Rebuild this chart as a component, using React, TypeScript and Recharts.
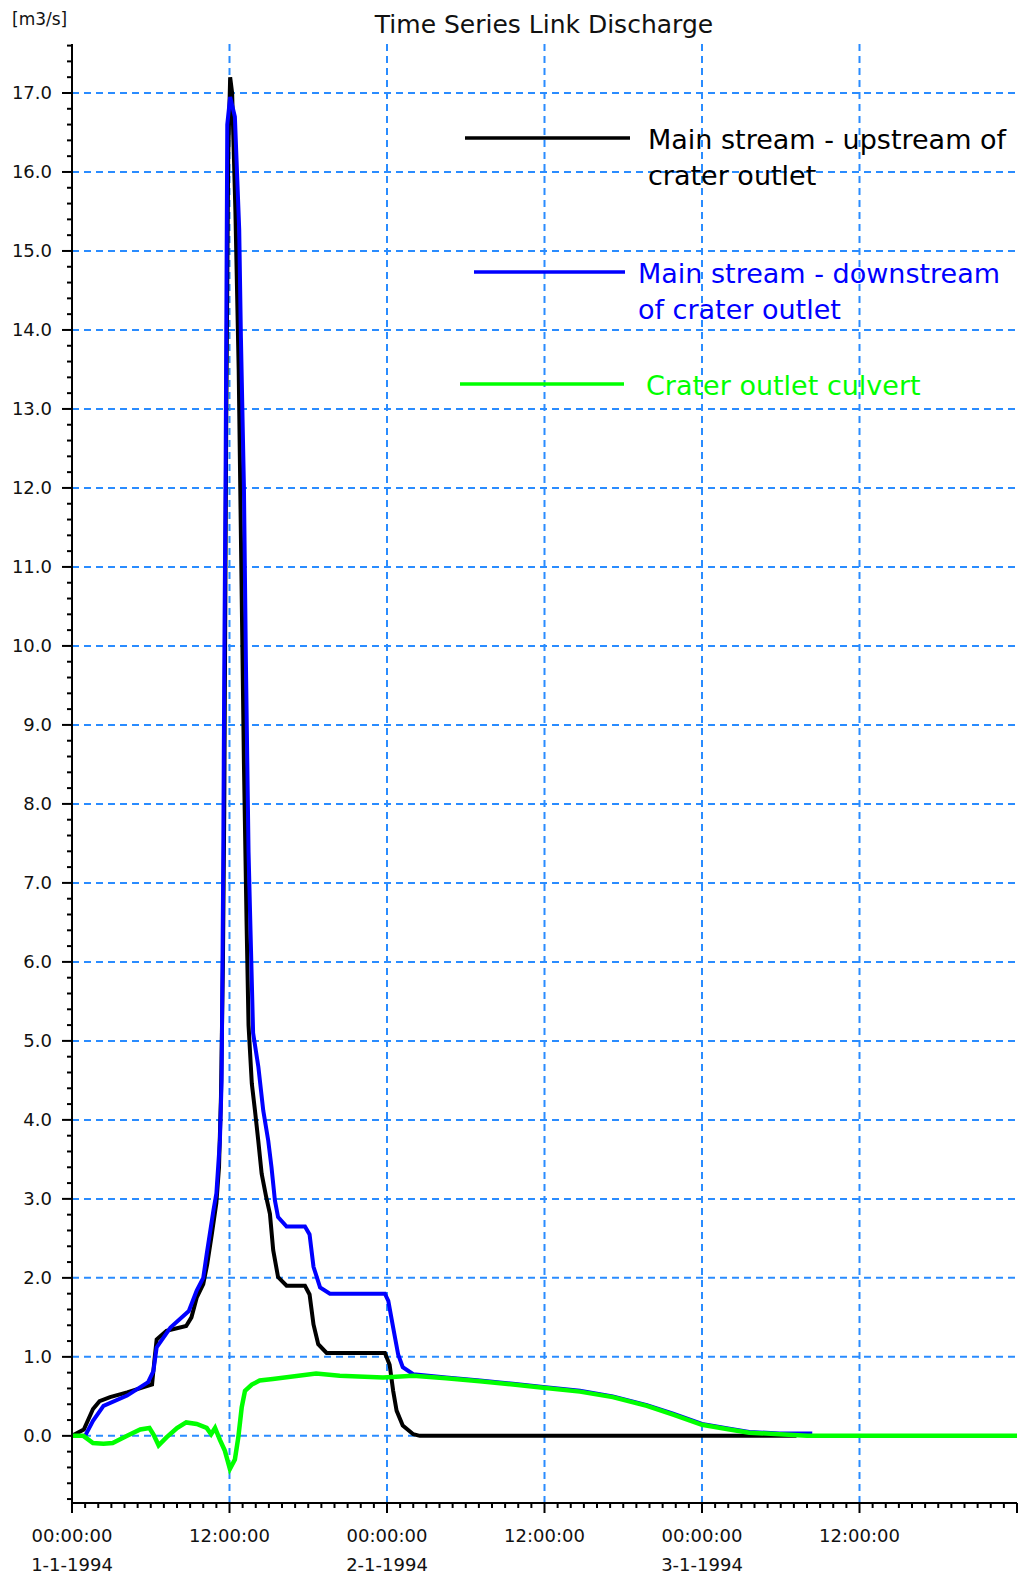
import { LineChart, Line, XAxis, YAxis, CartesianGrid } from "recharts";

// hours since 1-1-1994 00:00 and discharge [m3/s]
const upstreamHours = [0, 0.9, 1.6, 2.1, 2.9, 4.2, 5.7, 6.1, 6.3, 6.45, 7.2, 8.7, 9.1, 9.5, 10.0, 10.3, 10.65, 11.0, 11.2, 11.35, 11.5, 11.6, 11.75, 11.9, 12.05, 12.2, 12.45, 12.7, 12.9, 13.1, 13.3, 13.45, 13.7, 13.94, 14.19, 14.45, 14.8, 15.08, 15.33, 15.7, 16.35, 17.75, 18.1, 18.4, 18.76, 19.4, 23.84, 24.2, 24.47, 24.73, 25.2, 26.0, 26.5, 55.2];
const upstreamFlow = [0, 0.08, 0.34, 0.44, 0.49, 0.55, 0.63, 0.65, 0.99, 1.22, 1.33, 1.39, 1.5, 1.75, 1.92, 2.17, 2.55, 2.95, 3.4, 4.3, 6.0, 7.9, 12.8, 16.2, 17.2, 17.0, 15.5, 13.5, 11.0, 8.5, 6.5, 5.2, 4.46, 4.12, 3.74, 3.32, 3.02, 2.81, 2.35, 2.01, 1.9, 1.9, 1.79, 1.41, 1.16, 1.05, 1.05, 0.9, 0.57, 0.32, 0.13, 0.02, 0, 0];

const downstreamHours = [1.0, 1.6, 2.4, 4.2, 5.8, 6.2, 6.45, 7.5, 8.9, 9.5, 10.0, 10.26, 10.77, 11.0, 11.27, 11.4, 11.52, 11.6, 11.7, 11.83, 12.05, 12.41, 12.74, 12.87, 13.1, 13.25, 13.45, 13.6, 13.8, 14.2, 14.57, 14.95, 15.2, 15.46, 15.7, 16.35, 17.75, 18.1, 18.4, 18.9, 19.65, 23.84, 24.1, 24.47, 24.85, 25.2, 26.0, 28.5, 31.07, 33.6, 35.9, 38.7, 41.2, 43.8, 45.8, 48.0, 50.1, 51.6, 53.9, 56.4];
const downstreamFlow = [0, 0.19, 0.38, 0.51, 0.68, 0.82, 1.12, 1.37, 1.58, 1.84, 2.0, 2.3, 2.85, 3.07, 3.74, 4.5, 7.2, 9.7, 12.07, 16.6, 16.95, 16.7, 15.27, 13.9, 12.0, 9.8, 7.4, 6.4, 5.1, 4.67, 4.12, 3.74, 3.4, 2.98, 2.77, 2.65, 2.65, 2.55, 2.14, 1.88, 1.8, 1.8, 1.71, 1.37, 1.03, 0.87, 0.78, 0.74, 0.7, 0.66, 0.62, 0.57, 0.5, 0.39, 0.28, 0.15, 0.09, 0.05, 0.03, 0.03];

const culvertHours = [0, 0.86, 1.6, 2.4, 3.1, 4.2, 5.2, 5.9, 6.2, 6.6, 7.2, 8.0, 8.7, 9.5, 10.26, 10.6, 10.9, 11.27, 11.65, 12.03, 12.41, 12.67, 12.93, 13.18, 13.7, 14.3, 15.3, 18.6, 20.4, 23.7, 26.0, 28.5, 31.07, 33.6, 35.9, 38.7, 41.2, 43.8, 45.8, 48.0, 50.1, 51.6, 53.9, 56.0, 72];
const culvertFlow = [0, 0, -0.09, -0.1, -0.09, 0, 0.08, 0.1, 0.02, -0.12, -0.02, 0.1, 0.17, 0.15, 0.1, 0.02, 0.1, -0.05, -0.19, -0.42, -0.3, -0.02, 0.36, 0.57, 0.65, 0.7, 0.72, 0.79, 0.76, 0.74, 0.76, 0.73, 0.69, 0.65, 0.61, 0.56, 0.49, 0.38, 0.27, 0.14, 0.08, 0.04, 0.02, 0, 0];

const seriesNames = [
  ["Main stream - upstream of", "crater outlet"],
  ["Main stream - downstream", "of crater outlet"],
  ["Crater outlet culvert"],
];
const seriesColors = ["#000000", "#0000ff", "#00ff00"];

const timeLabels = ["00:00:00", "12:00:00", "00:00:00", "12:00:00", "00:00:00", "12:00:00", ""];
const dateLabels = ["1-1-1994", "", "2-1-1994", "", "3-1-1994", "", ""];
const gridHours = [12, 24, 36, 48, 60];
const yMajor = [0, 1, 2, 3, 4, 5, 6, 7, 8, 9, 10, 11, 12, 13, 14, 15, 16, 17];

const zip = (hours: number[], flow: number[]) => hours.map((t, i) => ({ t, q: flow[i] }));
const upstream = zip(upstreamHours, upstreamFlow);
const downstream = zip(downstreamHours, downstreamFlow);
const culvert = zip(culvertHours, culvertFlow);

const hourTicks = Array.from({ length: 73 }, (_, i) => i);
const flowTicks = Array.from({ length: 93 }, (_, i) => Math.round(-8 + i * 2) / 10);

const FONT = "DejaVu Sans, Verdana, sans-serif";

function HourTick({ x, y, payload }: any) {
  const h = payload.value;
  const major = h % 12 === 0;
  const idx = h / 12;
  return (
    <g>
      <line x1={x} x2={x} y1={y} y2={y + (major ? 10 : 5)} stroke="#000" strokeWidth={2} />
      {major && timeLabels[idx] ? (
        <text x={x} y={y + 39} textAnchor="middle" fontFamily={FONT} fontSize={18} fill="#111">
          {timeLabels[idx]}
        </text>
      ) : null}
      {major && dateLabels[idx] ? (
        <text x={x} y={y + 68} textAnchor="middle" fontFamily={FONT} fontSize={18} fill="#111">
          {dateLabels[idx]}
        </text>
      ) : null}
    </g>
  );
}

function FlowTick({ x, y, payload }: any) {
  const v = payload.value;
  const major = yMajor.some((m) => Math.abs(m - v) < 1e-6);
  return (
    <g>
      <line x1={x - (major ? 10 : 5)} x2={x} y1={y} y2={y} stroke="#000" strokeWidth={2} />
      {major ? (
        <text x={x - 20} y={y} textAnchor="end" dominantBaseline="central" fontFamily={FONT} fontSize={18} fill="#111">
          {v.toFixed(1)}
        </text>
      ) : null}
    </g>
  );
}

export default function App() {
  const legendRows = [
    { line: [465, 630], y: 138, textX: 648 },
    { line: [474, 625], y: 272, textX: 638 },
    { line: [460, 624], y: 384, textX: 646 },
  ];

  return (
    <div style={{ position: "absolute", left: 0, top: 0, width: 1018, height: 1576, background: "#fff" }}>
      <LineChart width={1018} height={1576} margin={{ top: 44, right: 1, bottom: 0, left: 0 }}>
        <CartesianGrid
          horizontalValues={yMajor}
          verticalValues={gridHours}
          stroke="#2a8cff"
          strokeWidth={2}
          strokeDasharray="7 5"
        />
        <XAxis
          dataKey="t"
          type="number"
          domain={[0, 72]}
          ticks={hourTicks}
          interval={0}
          height={73}
          tickSize={0}
          tickMargin={0}
          tickLine={false}
          tick={<HourTick />}
          axisLine={{ stroke: "#000", strokeWidth: 2 }}
          allowDataOverflow
        />
        <XAxis xAxisId="top" orientation="top" type="number" domain={[0, 72]} height={0} tick={false} tickLine={false} axisLine={{ stroke: "#333", strokeWidth: 2 }} />
        <YAxis
          type="number"
          domain={[-0.85, 17.62]}
          ticks={flowTicks}
          interval={0}
          width={72}
          tickSize={0}
          tickMargin={0}
          tickLine={false}
          tick={<FlowTick />}
          axisLine={{ stroke: "#000", strokeWidth: 2 }}
          allowDataOverflow
        />
        <YAxis yAxisId="right" orientation="right" type="number" domain={[-0.85, 17.62]} width={0} tick={false} tickLine={false} axisLine={{ stroke: "#333", strokeWidth: 2 }} />
        <Line data={upstream} dataKey="q" type="linear" stroke={seriesColors[0]} strokeWidth={4} dot={false} activeDot={false} isAnimationActive={false} />
        <Line data={downstream} dataKey="q" type="linear" stroke={seriesColors[1]} strokeWidth={4} dot={false} activeDot={false} isAnimationActive={false} />
        <Line data={culvert} dataKey="q" type="linear" stroke={seriesColors[2]} strokeWidth={4.5} dot={false} activeDot={false} isAnimationActive={false} />
      </LineChart>

      <svg width={1018} height={1576} style={{ position: "absolute", left: 0, top: 0, pointerEvents: "none" }}>
        <text x={12} y={24.5} fontFamily={FONT} fontSize={17} fill="#111">[m3/s]</text>
        <text x={544} y={33} textAnchor="middle" fontFamily={FONT} fontSize={25} fill="#111">Time Series Link Discharge</text>
        {legendRows.map((row, i) => (
          <g key={i}>
            <line x1={row.line[0]} x2={row.line[1]} y1={row.y} y2={row.y} stroke={seriesColors[i]} strokeWidth={3.5} />
            {seriesNames[i].map((s, j) => (
              <text key={j} x={row.textX} y={row.y + 1 + j * 36} dominantBaseline="central" fontFamily={FONT} fontSize={27} fill={seriesColors[i]}>
                {s}
              </text>
            ))}
          </g>
        ))}
      </svg>
    </div>
  );
}
